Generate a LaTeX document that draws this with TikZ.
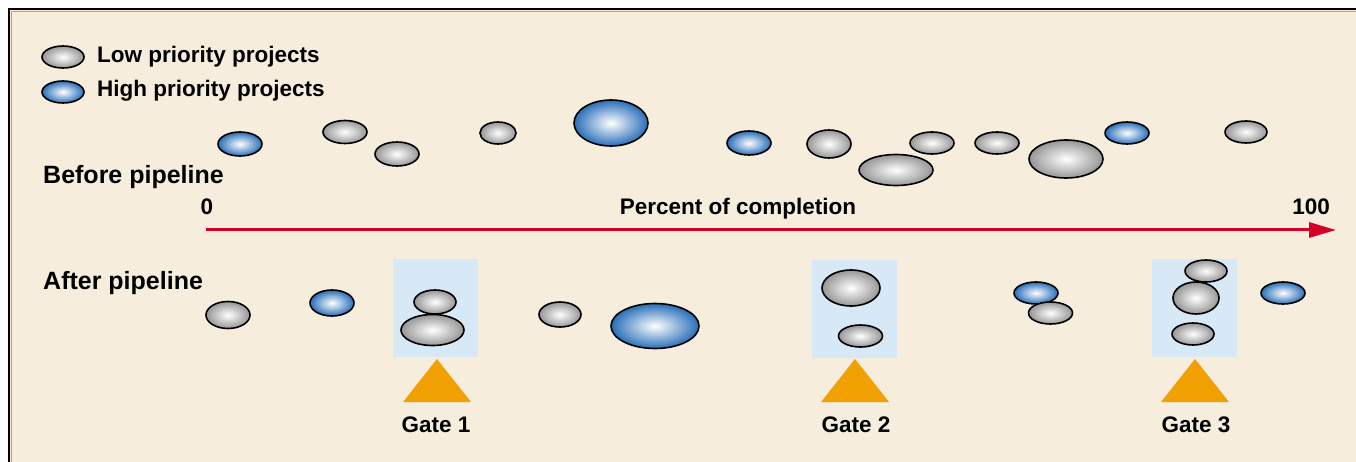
\documentclass[tikz,border=0pt]{standalone}
\usepackage{fontspec}
\setmainfont{Liberation Sans}
\usetikzlibrary{shapes.geometric,arrows.meta}
\definecolor{bg}{RGB}{246,237,221}
\definecolor{boxblue}{RGB}{215,232,246}
\definecolor{gateor}{RGB}{240,160,0}
\definecolor{axred}{RGB}{210,0,40}
\definecolor{projgray}{RGB}{150,150,150}
\definecolor{projblue}{RGB}{40,110,185}
\begin{document}
\begin{tikzpicture}[x=1pt,y=-1pt,
  lowp/.style 2 args={ellipse,draw=black,line width=1.6pt,inner sep=0pt,
     minimum width=2*#1,minimum height=2*#2,inner color=white,outer color=projgray},
  highp/.style 2 args={ellipse,draw=black,line width=1.6pt,inner sep=0pt,
     minimum width=2*#1,minimum height=2*#2,inner color=white,outer color=projblue},
  gatebox/.style={fill=boxblue,inner sep=0pt,minimum width=85pt,minimum height=98pt},
  gatetri/.style={fill=gateor},
  lbl/.style={font=\fontsize{22.5}{27}\selectfont\bfseries,inner sep=0pt},
  biglbl/.style={font=\fontsize{25}{30}\selectfont\bfseries,inner sep=0pt},
  axis/.style={draw=axred,line width=3pt,-{Triangle[length=27pt,width=15pt]}}]
\useasboundingbox (0,0) rectangle (1356,462);
% background and frame
\fill[white] (0,0) rectangle (1356,462);
\fill[bg] (9,9) rectangle (1356,462);
\draw[gray!70,line width=1.2pt] (11.5,462) -- (11.5,11.5) -- (1356,11.5);
\draw[black,line width=2pt] (9,462) -- (9,9) -- (1356,9);
% legend
\node[lowp={21}{11}] (leglow) at (63,57) {};
\node[highp={21}{11}] (leghigh) at (63,92) {};
\node[lbl,anchor=base west] (leglowt) at (97,63) {Low priority projects};
\node[lbl,anchor=base west] (leghight) at (97,97) {High priority projects};
% labels
\node[biglbl,anchor=base west] (before) at (43,184) {Before pipeline};
\node[biglbl,anchor=base west] (after) at (43,289) {After pipeline};
\node[lbl,anchor=base] (zero) at (207,215) {0};
\node[lbl,anchor=base] (pct) at (738,215) {Percent of completion};
\node[lbl,anchor=base] (hundred) at (1311,215) {100};
% axis
\coordinate (axs) at (206,230);
\coordinate (axe) at (1336,230);
\draw[axis] (axs) -- (axe);
% before pipeline projects
\node[highp={22}{12}] (t1) at (240,144) {};
\node[lowp={22}{11.5}] (t2) at (345,132) {};
\node[lowp={22}{12}] (t3) at (397,154) {};
\node[lowp={18}{11}] (t4) at (498,133) {};
\node[highp={37}{23}] (t5) at (611,123) {};
\node[highp={22}{12}] (t6) at (749,143) {};
\node[lowp={22}{14}] (t7) at (829,144) {};
\node[lowp={37}{15.5}] (t8) at (896,170) {};
\node[lowp={22}{11}] (t9) at (932,143) {};
\node[lowp={22}{11}] (t10) at (997,143) {};
\node[lowp={37}{19}] (t11) at (1066,159) {};
\node[highp={22}{11}] (t12) at (1127,133) {};
\node[lowp={21}{11}] (t13) at (1246,132) {};
% gate boxes
\node[gatebox] (box1) at (435.5,308) {};
\node[gatebox] (box2) at (854,308.5) {};
\node[gatebox] (box3) at (1194,308) {};
% after pipeline projects
\node[lowp={22}{13.5}] (b1) at (228,315) {};
\node[highp={22}{13}] (b2) at (332,303) {};
\node[lowp={21}{12}] (b3) at (435,302) {};
\node[lowp={31.5}{15.5}] (b4) at (432.5,330) {};
\node[lowp={21}{12.5}] (b5) at (560,314.5) {};
\node[highp={44}{22.5}] (b6) at (655,326) {};
\node[lowp={29}{18}] (b7) at (851,288) {};
\node[lowp={22}{11}] (b8) at (860.5,336) {};
\node[highp={22}{11}] (b9) at (1036,293) {};
\node[lowp={22}{11}] (b10) at (1050.5,313) {};
\node[lowp={21}{11}] (b11) at (1206,271) {};
\node[lowp={23}{16}] (b12) at (1196,298) {};
\node[lowp={21}{11}] (b13) at (1193,334) {};
\node[highp={22}{11}] (b14) at (1283,293) {};
% gates
\fill[gatetri] (437,359) -- (471,402) -- (403,402) -- cycle;
\fill[gatetri] (855,359) -- (889,402) -- (821,402) -- cycle;
\fill[gatetri] (1195,359) -- (1229,402) -- (1161,402) -- cycle;
\node[lbl,anchor=base] (gate1) at (436,432) {Gate 1};
\node[lbl,anchor=base] (gate2) at (856,432) {Gate 2};
\node[lbl,anchor=base] (gate3) at (1196,432) {Gate 3};
\end{tikzpicture}
\end{document}
